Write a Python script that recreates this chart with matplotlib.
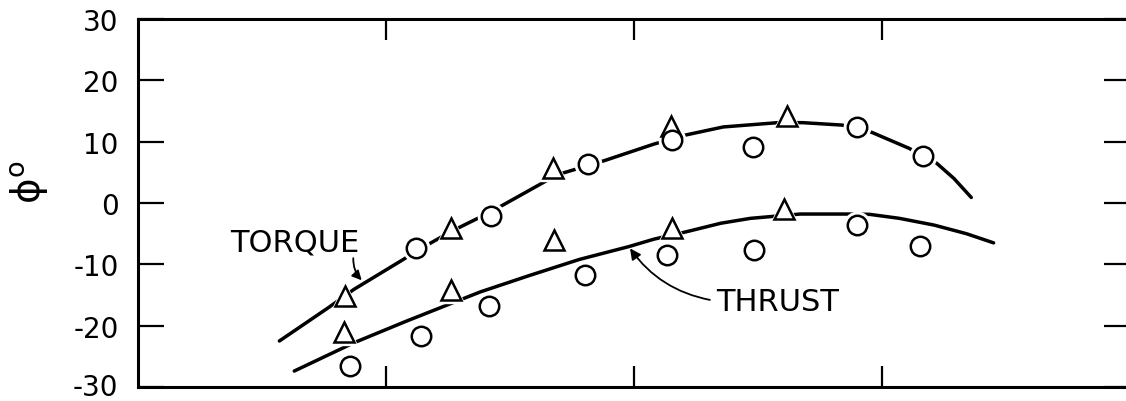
import matplotlib.pyplot as plt
from matplotlib.transforms import ScaledTranslation

plt.rcParams['axes.unicode_minus'] = False
plt.rcParams['font.family'] = ['DejaVu Sans']

# torque curve (upper)
torque_x = [0.57, 0.77, 0.87, 1.07, 1.12, 1.26, 1.42, 1.69, 1.88, 2.08, 2.21, 2.36, 2.58, 2.68, 2.84, 2.96, 3.11, 3.22, 3.29, 3.36]
torque_y = [-22.5, -17.0, -14.1, -9.2, -7.9, -4.7, -1.5, 4.6, 6.9, 9.6, 11.1, 12.4, 13.1, 13.1, 12.7, 11.5, 8.9, 6.5, 4.0, 0.9]

# thrust curve (lower)
thrust_x = [0.63, 0.87, 1.08, 1.28, 1.38, 1.58, 1.78, 1.98, 2.08, 2.21, 2.35, 2.47, 2.67, 2.86, 2.95, 3.07, 3.21, 3.34, 3.45]
thrust_y = [-27.4, -22.8, -19.3, -16.1, -14.5, -11.8, -9.2, -7.1, -5.9, -4.7, -3.3, -2.5, -1.8, -1.8, -1.85, -2.5, -3.6, -5.0, -6.5]

# measured points near the torque curve
torque_tri_x = [0.833, 1.261, 1.675, 2.149, 2.616]
torque_tri_y = [-15.2, -4.1, 5.7, 12.6, 14.2]
torque_circ_x = [1.121, 1.422, 1.816, 2.152, 2.478, 2.898, 3.164]
torque_circ_y = [-7.4, -2.2, 6.3, 10.3, 9.1, 12.4, 7.6]

# measured points near the thrust curve
thrust_tri_x = [0.831, 1.261, 1.677, 2.152, 2.606]
thrust_tri_y = [-21.0, -14.2, -6.0, -4.1, -0.9]
thrust_circ_x = [0.855, 1.14, 1.417, 1.802, 2.132, 2.485, 2.898, 3.155]
thrust_circ_y = [-26.5, -21.7, -16.8, -11.7, -8.5, -7.6, -3.6, -7.0]

y_ticks = [30, 20, 10, 0, -10, -20, -30]
x_ticks = [1, 2, 3]

fig = plt.figure(figsize=(11.26, 4.02), dpi=100)
ax = fig.add_axes([138 / 1126, 14 / 402, 992 / 1126, 368 / 402])

ax.plot(torque_x, torque_y, color='black', lw=2.5, solid_capstyle='round',
        solid_joinstyle='round', zorder=2)
ax.plot(thrust_x, thrust_y, color='black', lw=2.5, solid_capstyle='round',
        solid_joinstyle='round', zorder=2)

tri_x = torque_tri_x + thrust_tri_x
tri_y = torque_tri_y + thrust_tri_y
circ_x = torque_circ_x + thrust_circ_x
circ_y = torque_circ_y + thrust_circ_y

# white halo so the curves break around the symbols
ax.plot(tri_x, tri_y, ls='none', marker='^', ms=19, mfc='white', mec='white', zorder=3)
ax.plot(circ_x, circ_y, ls='none', marker='o', ms=19, mfc='white', mec='white', zorder=3)
ax.plot(tri_x, tri_y, ls='none', marker='^', ms=14, mfc='white', mec='black', mew=1.8, zorder=4)
ax.plot(circ_x, circ_y, ls='none', marker='o', ms=14, mfc='white', mec='black', mew=1.8, zorder=4)

ax.text(0.633, -6.4, 'TORQUE', fontsize=22, ha='center', va='center')
ax.annotate('', xy=(0.902, -12.6), xytext=(0.868, -9.0),
            arrowprops=dict(arrowstyle='-|>', color='black', lw=1.3,
                            mutation_scale=14, connectionstyle='arc3,rad=0.2',
                            shrinkA=0, shrinkB=0))

ax.text(2.58, -16.1, 'THRUST', fontsize=22, ha='center', va='center')
ax.annotate('', xy=(1.984, -7.4), xytext=(2.306, -15.8),
            arrowprops=dict(arrowstyle='-|>', color='black', lw=1.3,
                            mutation_scale=16, connectionstyle='arc3,rad=-0.2',
                            shrinkA=0, shrinkB=0))

ax.set_xlim(0, 4)
ax.set_ylim(-30, 30)
ax.set_yticks(y_ticks)
ax.set_yticklabels([str(v) for v in y_ticks])
ax.set_xticks(x_ticks)
ax.set_xticklabels([])
ax.tick_params(axis='y', direction='in', length=19, width=1.6, labelsize=20, pad=14,
               right=True, left=True)
ax.tick_params(axis='x', direction='in', length=15, width=1.6, top=True, bottom=True)
for s in ax.spines.values():
    s.set_linewidth(2.2)

# nudge the bottom label so it stays inside the figure
for lab in ax.get_yticklabels():
    if lab.get_text() == '-30':
        lab.set_transform(lab.get_transform() + ScaledTranslation(0, 3 / 100, fig.dpi_scale_trans))

ax.set_ylabel('ϕ$^{\\mathrm{o}}$', fontsize=28, rotation=90)
ax.yaxis.set_label_coords(-0.088, 0.56)

fig.savefig('out.png', dpi=100)
